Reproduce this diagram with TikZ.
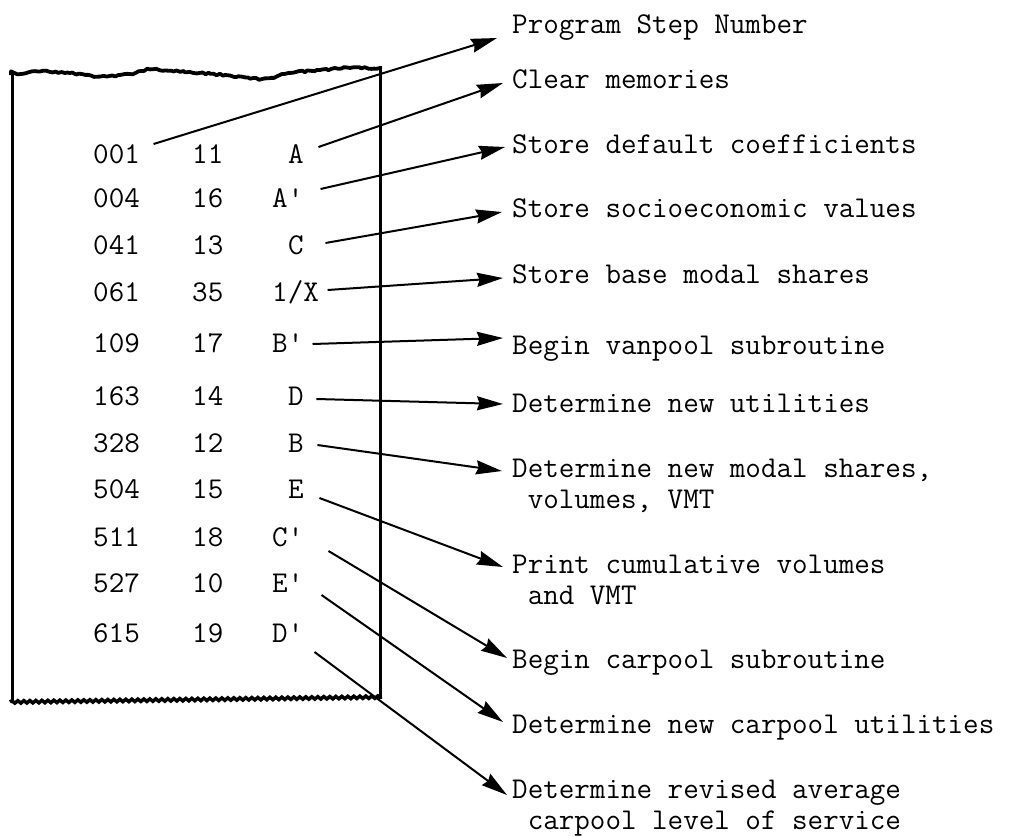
\documentclass[tikz,border=0pt]{standalone}
\usetikzlibrary{arrows.meta,decorations.pathmorphing}
\begin{document}
\pgfmathsetseed{11}
\begin{tikzpicture}[x=1pt,y=-1pt,
  tt/.style={font=\ttfamily\fontsize{30.2}{31}\selectfont, inner sep=0pt, anchor=base west},
  side/.style={line width=3pt},
  tornedge/.style={line width=3.8pt, line join=round, decorate,
    decoration={random steps,segment length=3pt,amplitude=1pt}},
  cutedge/.style={line width=3.5pt, decorate,
    decoration={snake,segment length=6pt,amplitude=1.2pt}},
  arr/.style={line width=2pt, -{Stealth[length=26pt,width=14pt,inset=2.5pt]}}]
\useasboundingbox (0,0) rectangle (1018,836);

% paper strip
\draw[side] (12,74) -- (12,702);
\draw[side] (380.5,68) -- (380.5,698);
\draw[tornedge] plot[smooth] coordinates {(11,75) (40,71.5) (70,73) (100,76.5) (130,74)
  (150,69.5) (190,72) (230,75.5) (262,79) (290,73) (320,70) (350,68) (382,68)};
\draw[cutedge] (10,702) -- (382,697);

% program listing
\node[tt] (n1)  at (93,163) {001}; \node[tt] (c1)  at (192,163) {11}; \node[tt] (k1)  at (288,163) {A};
\node[tt] (n2)  at (93,207) {004}; \node[tt] (c2)  at (192,207) {16}; \node[tt] (k2)  at (272,207) {A\textquotesingle};
\node[tt] (n3)  at (93,254) {041}; \node[tt] (c3)  at (192,254) {13}; \node[tt] (k3)  at (288,254) {C};
\node[tt] (n4)  at (93,301) {061}; \node[tt] (c4)  at (192,301) {35}; \node[tt] (k4)  at (272,301) {1/X};
\node[tt] (n5)  at (93,352) {109}; \node[tt] (c5)  at (192,352) {17}; \node[tt] (k5)  at (272,352) {B\textquotesingle};
\node[tt] (n6)  at (93,405) {163}; \node[tt] (c6)  at (192,405) {14}; \node[tt] (k6)  at (288,405) {D};
\node[tt] (n7)  at (93,452) {328}; \node[tt] (c7)  at (192,452) {12}; \node[tt] (k7)  at (288,452) {B};
\node[tt] (n8)  at (93,498) {504}; \node[tt] (c8)  at (192,498) {15}; \node[tt] (k8)  at (288,498) {E};
\node[tt] (n9)  at (93,546) {511}; \node[tt] (c9)  at (192,546) {18}; \node[tt] (k9)  at (272,546) {C\textquotesingle};
\node[tt] (n10) at (93,592) {527}; \node[tt] (c10) at (192,592) {10}; \node[tt] (k10) at (272,592) {E\textquotesingle};
\node[tt] (n11) at (93,642) {615}; \node[tt] (c11) at (192,642) {19}; \node[tt] (k11) at (272,642) {D\textquotesingle};

% descriptions
\node[tt] (L1)  at (512,33)  {Program Step Number};
\node[tt] (L2)  at (512,88)  {Clear memories};
\node[tt] (L3)  at (512,153) {Store default coefficients};
\node[tt] (L4)  at (512,217) {Store socioeconomic values};
\node[tt] (L5)  at (512,283) {Store base modal shares};
\node[tt] (L6)  at (512,354) {Begin vanpool subroutine};
\node[tt] (L7)  at (512,412) {Determine new utilities};
\node[tt] (L8)  at (512,477) {\begin{tabular}[t]{@{}l@{}}Determine new modal shares,\\\phantom{x}volumes, VMT\end{tabular}};
\node[tt] (L9)  at (512,573) {\begin{tabular}[t]{@{}l@{}}Print cumulative volumes\\\phantom{x}and VMT\end{tabular}};
\node[tt] (L10) at (512,668) {Begin carpool subroutine};
\node[tt] (L11) at (512,733) {Determine new carpool utilities};
\node[tt] (L12) at (512,798) {\begin{tabular}[t]{@{}l@{}}Determine revised average\\\phantom{x}carpool level of service\end{tabular}};

% arrow tails beside the listing
\coordinate (t1)  at ([shift={(13.5,-19)}]n1.base east);
\coordinate (t2)  at ([shift={(14.5,-16)}]k1.base east);
\coordinate (t3)  at ([shift={(17,-18)}]k2.base east);
\coordinate (t4)  at ([shift={(21.5,-11)}]k3.base east);
\coordinate (t5)  at ([shift={(8.5,-11)}]k4.base east);
\coordinate (t6)  at ([shift={(9,-8)}]k5.base east);
\coordinate (t7)  at ([shift={(12.5,-6)}]k6.base east);
\coordinate (t8)  at ([shift={(13.5,-7)}]k7.base east);
\coordinate (t9)  at ([shift={(15.5,0)}]k8.base east);
\coordinate (t10) at ([shift={(25,5)}]k9.base east);
\coordinate (t11) at ([shift={(18,3)}]k10.base east);
\coordinate (t12) at ([shift={(11,10)}]k11.base east);

% arrow heads before the descriptions
\coordinate (h1)  at ([shift={(-15,5)}]L1.base west);
\coordinate (h2)  at ([shift={(-9,-5)}]L2.base west);
\coordinate (h3)  at ([shift={(-7,-6)}]L3.base west);
\coordinate (h4)  at ([shift={(-10,-5)}]L4.base west);
\coordinate (h5)  at ([shift={(-9,-5)}]L5.base west);
\coordinate (h6)  at ([shift={(-9,-16)}]L6.base west);
\coordinate (h7)  at ([shift={(-9,-8)}]L7.base west);
\coordinate (h8)  at ([shift={(-10,-6)}]L8.base west);
\coordinate (h9)  at ([shift={(-9,-6)}]L9.base west);
\coordinate (h10) at ([shift={(-5,-10)}]L10.base west);
\coordinate (h11) at ([shift={(-9,-11)}]L11.base west);
\coordinate (h12) at ([shift={(-5,-3)}]L12.base west);

\foreach \i in {1,...,12} \draw[arr] (t\i) -- (h\i);
\end{tikzpicture}
\end{document}
